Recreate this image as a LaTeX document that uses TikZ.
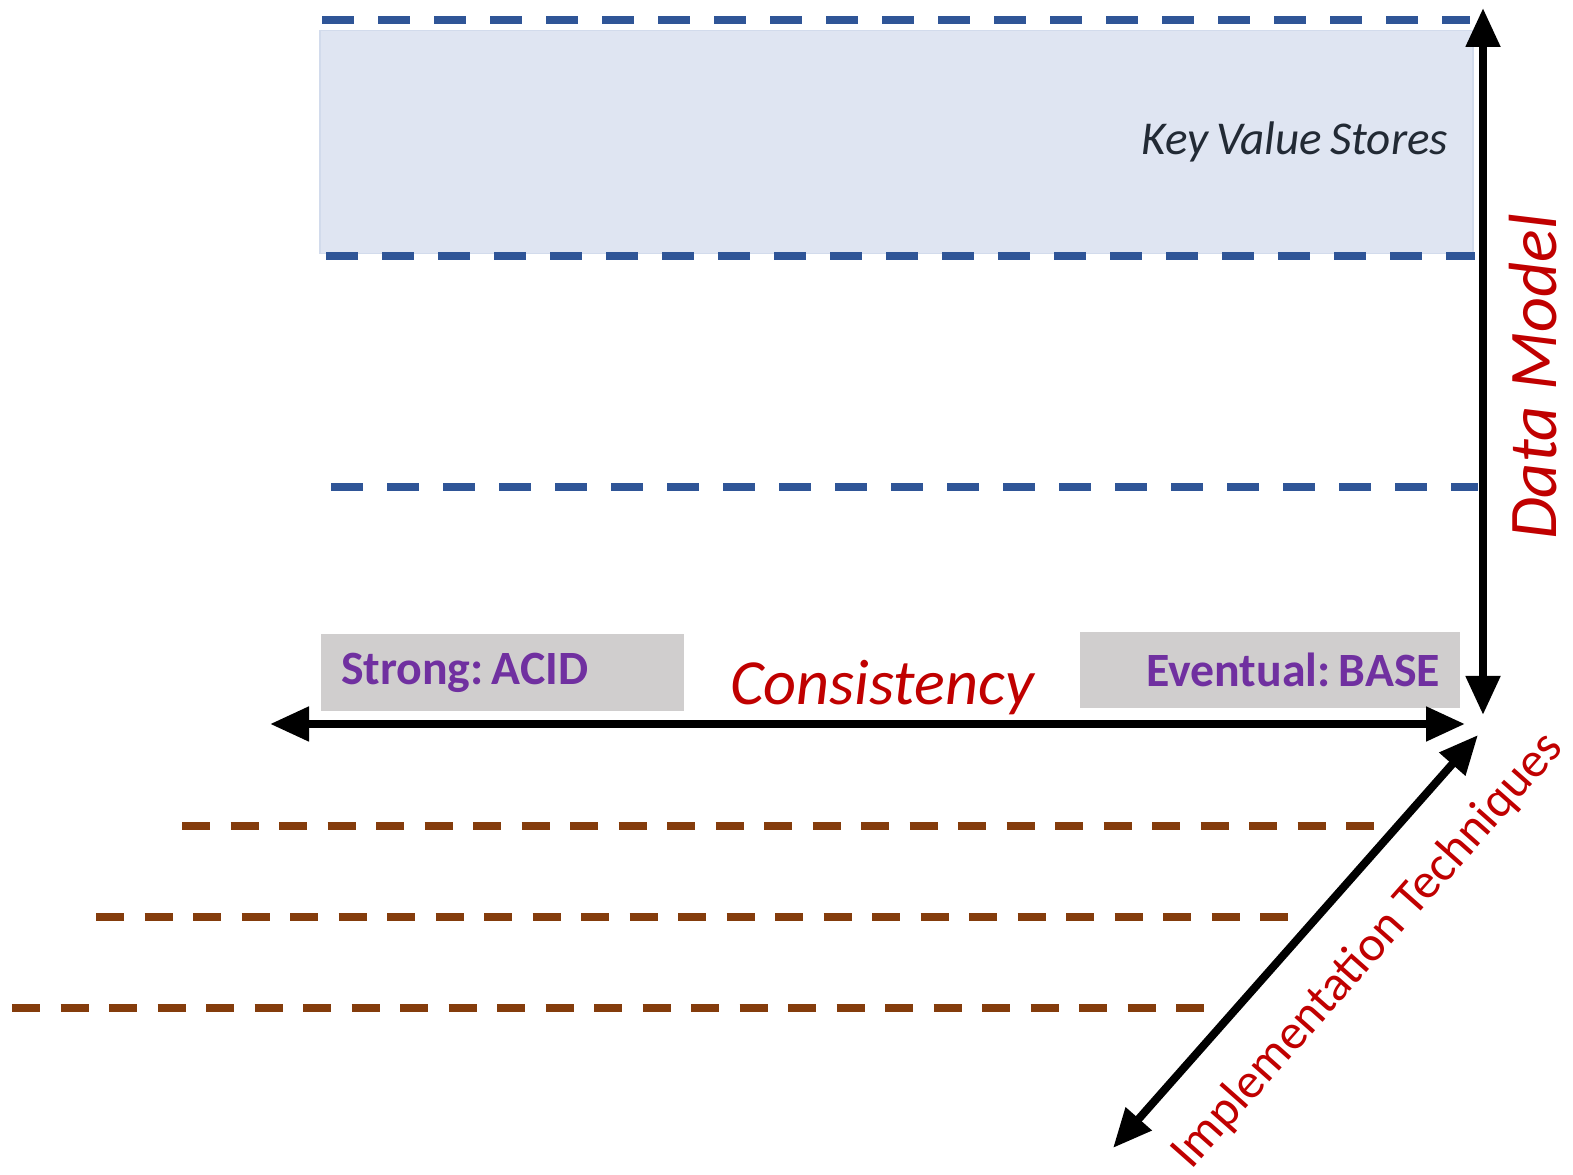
\documentclass[tikz,border=0pt]{standalone}
\usepackage{fontspec}
\setmainfont{Carlito}
\usetikzlibrary{arrows.meta}
\definecolor{kvblue}{RGB}{47,85,151}
\definecolor{kvfill}{RGB}{223,229,242}
\definecolor{kvedge}{RGB}{210,219,236}
\definecolor{implbrown}{RGB}{132,60,12}
\definecolor{consgrey}{RGB}{208,206,206}
\definecolor{levelpurple}{RGB}{112,48,160}
\definecolor{axisred}{RGB}{192,0,0}
\definecolor{darktext}{RGB}{34,42,53}
\newcommand{\tightwords}{\spaceskip=0.17em\relax}
\frenchspacing
\begin{document}
\begin{tikzpicture}
\tikzstyle{axis} = [line width=0.08cm, black, {Triangle[length=0.39cm,width=0.33cm]}-{Triangle[length=0.39cm,width=0.33cm]}]
\tikzstyle{bluelevel} = [line width=0.08cm, kvblue, dash pattern=on 0.32cm off 0.24cm]
\tikzstyle{brownlevel} = [line width=0.08cm, implbrown, dash pattern=on 0.28cm off 0.205cm]
\tikzstyle{greybox} = [rectangle, fill=consgrey, inner xsep=0.2cm, inner ysep=0cm, font=\fontsize{13.6}{16}\selectfont\bfseries, text=levelpurple]
\tikzstyle{axislabel} = [text=axisred, inner sep=0pt]
\useasboundingbox (0,0) rectangle (15.73,11.75);
\node[rectangle, fill=kvfill, draw=kvedge, line width=0.4pt, minimum width=11.53cm, minimum height=2.23cm, text width=11.03cm, align=right, inner xsep=0.25cm, font=\fontsize{13.4}{16}\selectfont\itshape, text=darktext] at (8.965,10.33) (kv){\tightwords Key Value Stores};
\draw[bluelevel] (3.22,11.55) -- (14.70,11.55);
\draw[bluelevel] (3.26,9.19) -- (14.75,9.19);
\draw[bluelevel] (3.31,6.88) -- (14.78,6.88);
\draw[brownlevel] (1.82,3.49) -- (13.90,3.49);
\draw[brownlevel] (0.96,2.58) -- (13.05,2.58);
\draw[brownlevel] (0.12,1.67) -- (12.22,1.67);
\node[greybox, minimum width=3.63cm, minimum height=0.77cm, text width=3.23cm, align=left] at (5.025,5.025) (acid){\tightwords Strong: ACID};
\node[greybox, minimum width=3.80cm, minimum height=0.76cm, text width=3.40cm, align=right] at (12.70,5.05) (base){\tightwords Eventual: BASE};
\coordinate (dm_top) at (14.83,11.67);
\coordinate (dm_bot) at (14.83,4.60);
\coordinate (cons_left) at (2.70,4.51);
\coordinate (cons_right) at (14.65,4.51);
\coordinate (impl_top) at (14.78,4.40);
\coordinate (impl_bot) at (11.13,0.27);
\draw[axis] (dm_bot) -- (dm_top);
\draw[axis] (cons_left) -- (cons_right);
\draw[axis] (impl_bot) -- (impl_top);
\node[axislabel, font=\fontsize{18.3}{22}\selectfont\itshape] at (8.82,4.87) (cons){Consistency};
\node[axislabel, rotate=90, font=\fontsize{19.4}{24}\selectfont\itshape] at (15.33,7.98) (dm){Data Model};
\node[axislabel, rotate=48.5, font=\fontsize{14.2}{17}\selectfont] at (13.68,2.24) (impl){Implementation Techniques};
\end{tikzpicture}
\end{document}
